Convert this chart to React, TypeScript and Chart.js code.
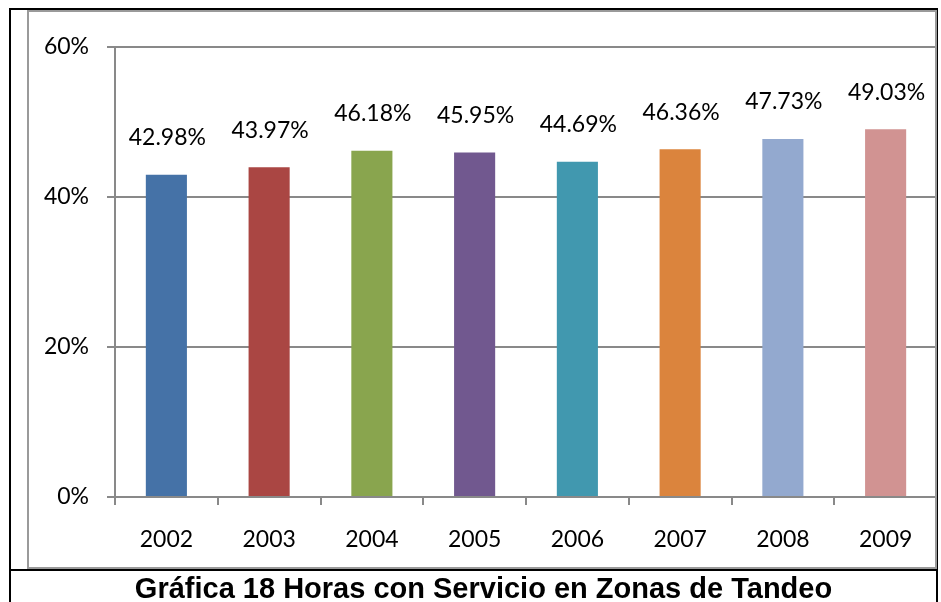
import React, { useEffect, useRef } from "react";
import { Chart, registerables } from "chart.js";

Chart.register(...registerables);

const years = ["2002", "2003", "2004", "2005", "2006", "2007", "2008", "2009"];
const values = [42.98, 43.97, 46.18, 45.95, 44.69, 46.36, 47.73, 49.03];
const barColors = ["#4572A7", "#AA4643", "#89A54E", "#71588F", "#4198AF", "#DB843D", "#93A9CF", "#D19392"];
const yTicks = [0, 20, 40, 60];
const title = "Gráfica 18 Horas con Servicio en Zonas de Tandeo";

const FONT = "Lato, 'Open Sans', sans-serif";
const GRID = "#898989";

const valueLabels = {
  id: "valueLabels",
  afterDatasetsDraw(chart: any) {
    const ctx = chart.ctx;
    const meta = chart.getDatasetMeta(0);
    ctx.save();
    ctx.font = `23px ${FONT}`;
    ctx.fillStyle = "#000";
    ctx.textAlign = "center";
    ctx.textBaseline = "middle";
    meta.data.forEach((bar: any, i: number) => {
      const v = chart.data.datasets[0].data[i] as number;
      ctx.fillText(v.toFixed(2) + "%", bar.x + 1, bar.y - 37);
    });
    ctx.restore();
  },
};

export default function App() {
  const ref = useRef<HTMLCanvasElement>(null);
  useEffect(() => {
    if (!ref.current) return;
    const chart = new Chart(ref.current, {
      type: "bar",
      data: {
        labels: years,
        datasets: [
          {
            data: values,
            backgroundColor: barColors,
            borderWidth: 0,
            barPercentage: 0.4,
            categoryPercentage: 1,
          },
        ],
      },
      options: {
        responsive: false,
        animation: false,
        layout: { padding: { left: 0, right: 4, top: 47, bottom: 0 } },
        plugins: { legend: { display: false }, tooltip: { enabled: false }, title: { display: false } },
        scales: {
          x: {
            grid: {
              display: true,
              drawOnChartArea: false,
              drawTicks: true,
              tickLength: 8,
              color: GRID,
              lineWidth: 2,
              offset: true,
            },
            border: { display: true, color: GRID, width: 2 },
            ticks: { color: "#000", font: { family: FONT, size: 23 }, padding: 21, maxRotation: 0 },
            afterFit: (s: any) => {
              s.height = 73;
            },
          },
          y: {
            min: 0,
            max: 60,
            afterBuildTicks: (s: any) => {
              s.ticks = yTicks.map((v) => ({ value: v }));
            },
            grid: { color: GRID, lineWidth: 2, tickLength: 8, drawTicks: true },
            border: { display: true, color: GRID, width: 2 },
            ticks: {
              color: "#000",
              font: { family: FONT, size: 23 },
              padding: 18,
              callback: (v: any) => v + "%",
            },
            afterFit: (s: any) => {
              s.width = 115;
            },
          },
        },
      },
      plugins: [valueLabels],
    });
    return () => chart.destroy();
  }, []);

  return (
    <div
      style={{
        position: "fixed",
        left: 0,
        top: 0,
        width: 941,
        height: 602,
        overflow: "hidden",
        background: "#fff",
      }}
    >
      <canvas ref={ref} width={941} height={570} style={{ position: "absolute", left: 0, top: 0 }} />
      {/* table cell borders */}
      <div
        style={{
          position: "absolute",
          left: 9,
          top: 8,
          width: 925,
          height: 620,
          borderLeft: "2px solid #000",
          borderTop: "2px solid #000",
          borderRight: "2px solid #000",
        }}
      />
      <div style={{ position: "absolute", left: 9, top: 569, width: 929, height: 2, background: "#000" }} />
      {/* chart frame */}
      <div
        style={{
          position: "absolute",
          left: 27,
          top: 10,
          width: 906,
          height: 555,
          border: "2px solid #9a9a9a",
        }}
      />
      <div
        style={{
          position: "absolute",
          left: 0,
          top: 574,
          width: 967,
          textAlign: "center",
          fontFamily: "'Liberation Sans', Arial, sans-serif",
          fontWeight: "bold",
          fontSize: 29,
          lineHeight: "29px",
          color: "#000",
          whiteSpace: "nowrap",
        }}
      >
        {title}
      </div>
    </div>
  );
}
